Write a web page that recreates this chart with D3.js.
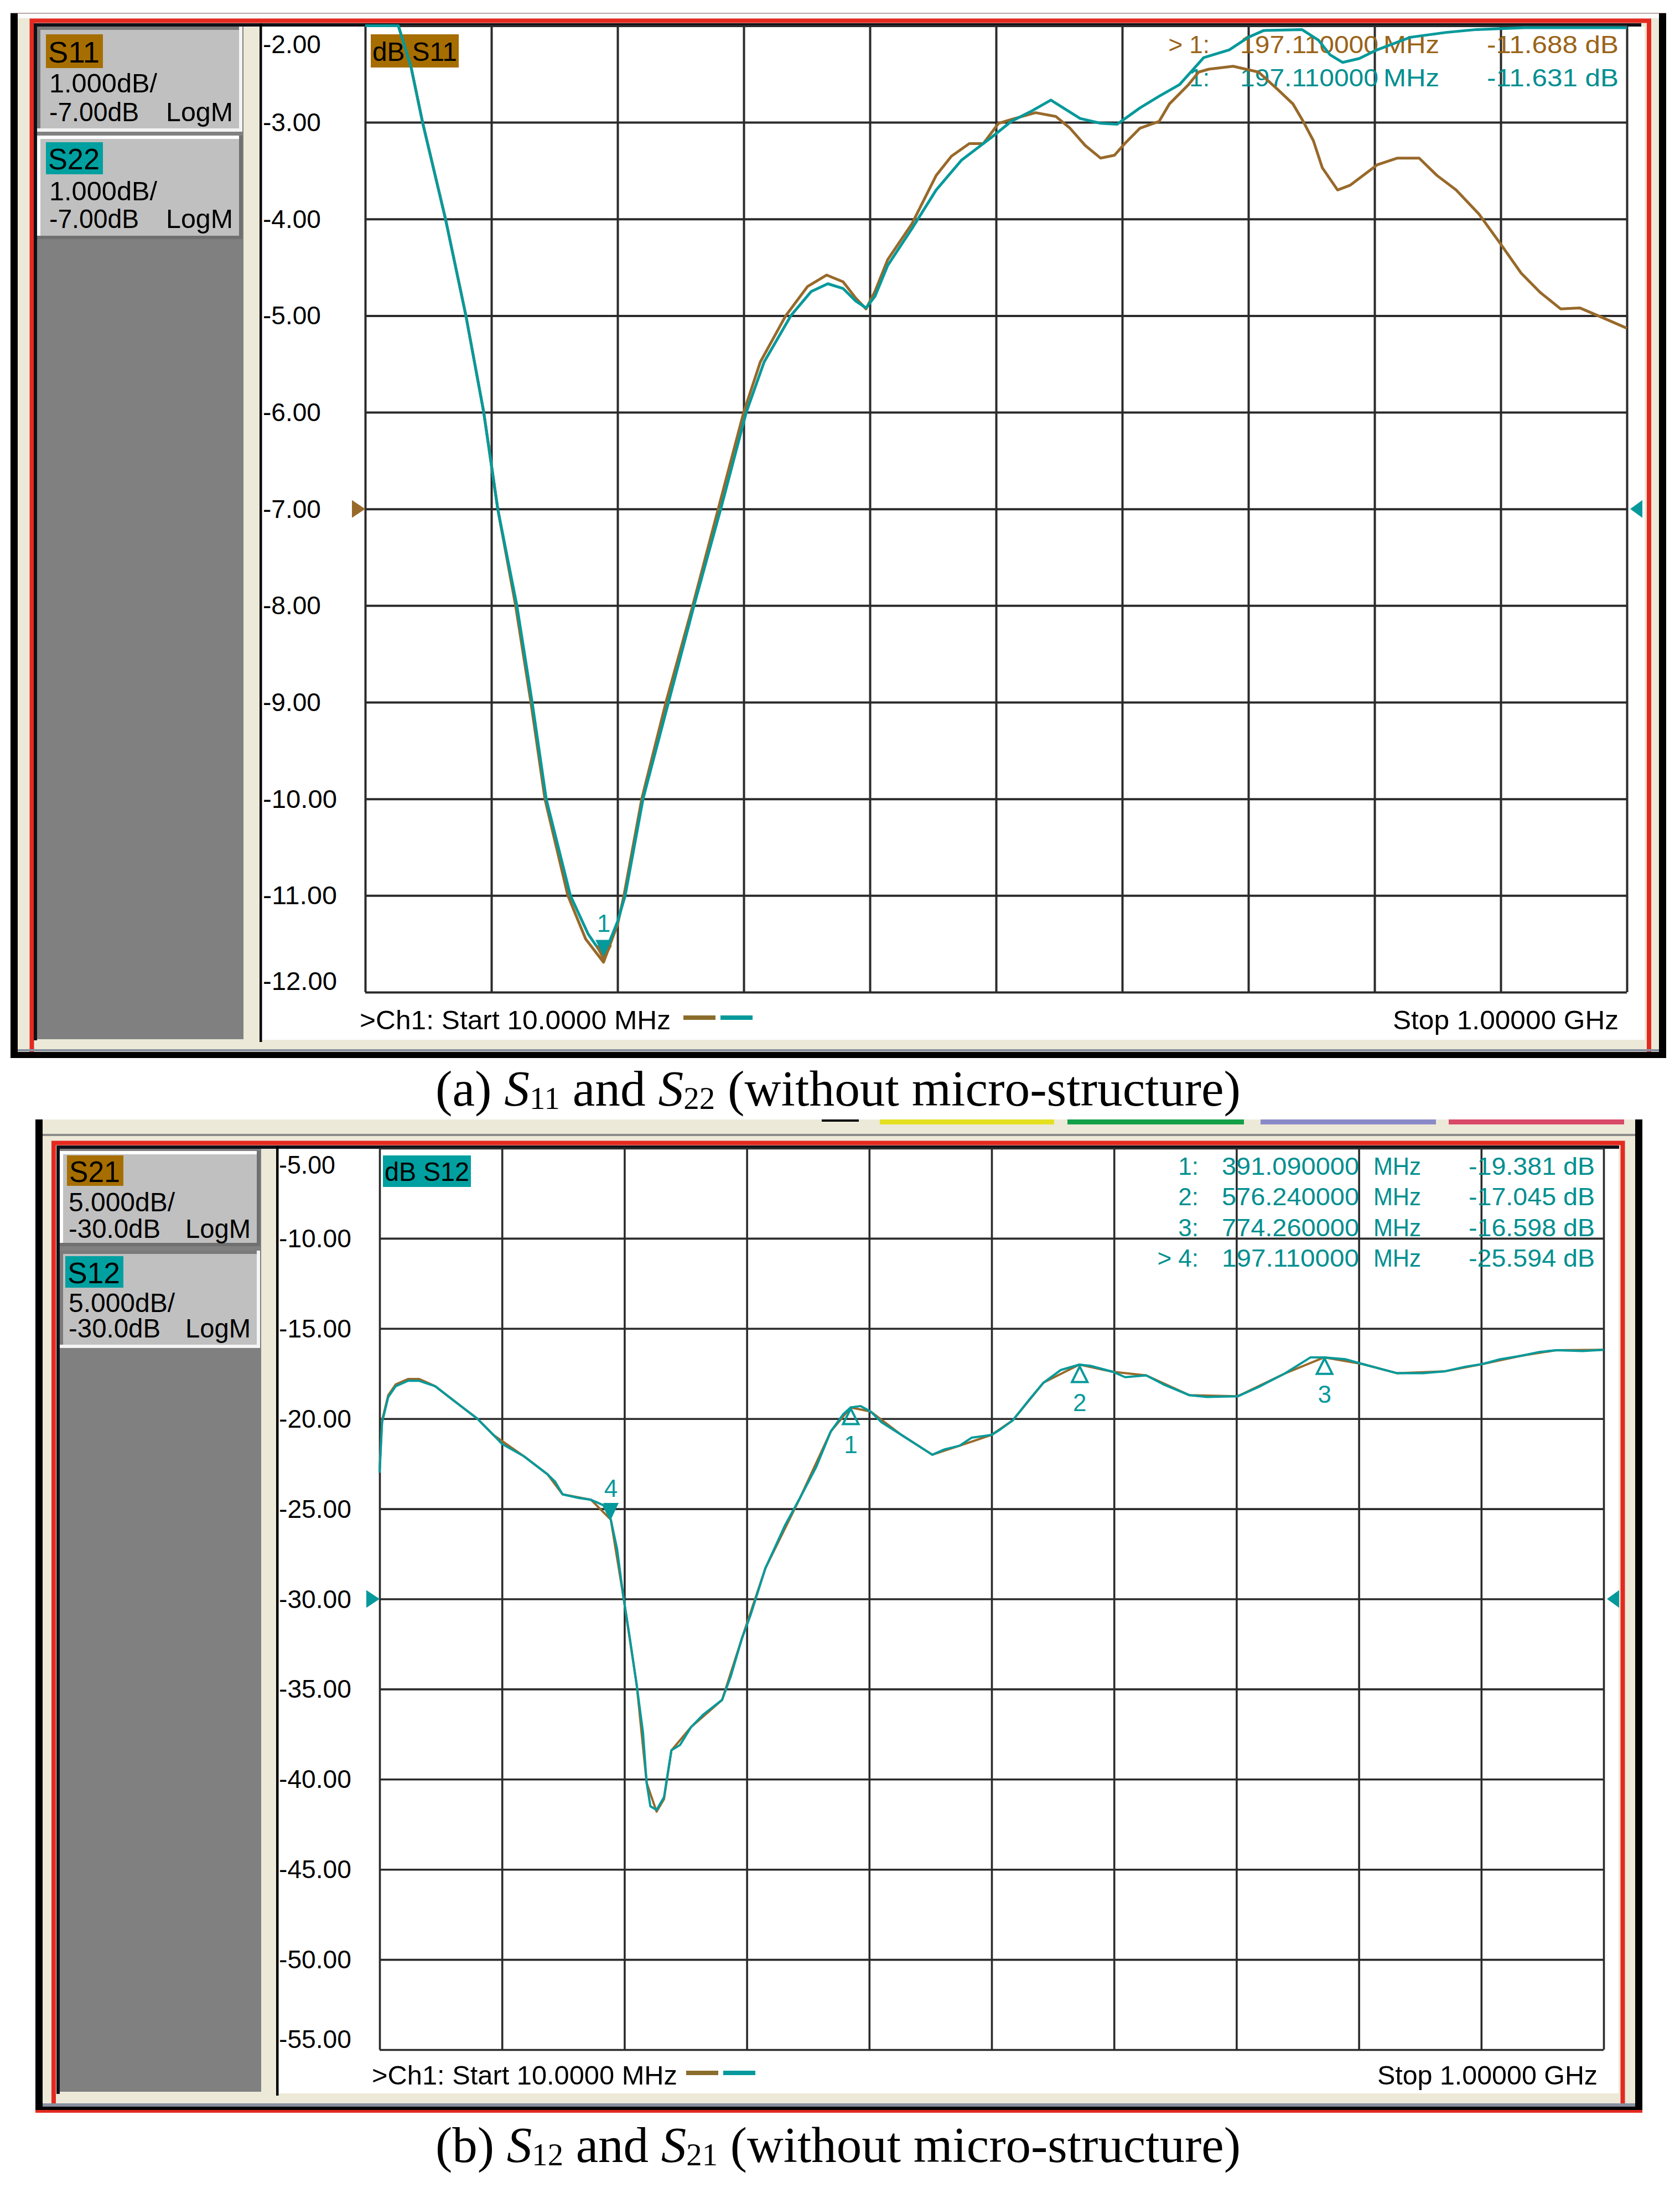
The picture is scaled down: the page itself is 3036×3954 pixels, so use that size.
<!DOCTYPE html>
<html>
<head>
<meta charset="utf-8">
<script src="https://cdn.jsdelivr.net/npm/d3@7/dist/d3.min.js"></script>
<style>
  body { margin: 0; background: #fff; }
  svg { display: block; }
</style>
</head>
<body>
<svg id="chart"></svg>
<script>
// ---- values (MHz, dB) ----
const gridFreqs = [10, 109, 208, 307, 406, 505, 604, 703, 802, 901, 1000]
const yTicksA = [-2, -3, -4, -5, -6, -7, -8, -9, -10, -11, -12]
const yTicksB = [-5, -10, -15, -20, -25, -30, -35, -40, -45, -50, -55]

const s11 = [[10,-2.0],[36,-2.0],[46,-2.43],[55,-3.0],[73,-4.0],[89,-5.0],[103,-6.0],[114,-7.0],
  [128,-8.0],[140,-9.0],[151,-10.0],[169,-11.0],[183,-11.45],[197,-11.69],[208,-11.3],[213,-11.0],
  [227,-10.0],[246,-9.0],[267,-8.0],[287,-7.0],[307,-6.0],[320,-5.48],[340,-5.0],[357,-4.7],
  [372,-4.58],[385,-4.65],[395,-4.82],[403,-4.93],[410,-4.75],[420,-4.42],[439,-4.05],[458,-3.55],
  [470,-3.35],[484,-3.22],[495,-3.22],[507,-3.01],[517,-2.97],[536,-2.90],[552,-2.94],[563,-3.06],
  [575,-3.24],[587,-3.37],[598,-3.34],[606,-3.22],[618,-3.06],[633,-2.99],[641,-2.81],[656,-2.61],
  [664,-2.48],[672,-2.45],[691,-2.42],[711,-2.48],[726,-2.66],[738,-2.81],[746,-2.99],[754,-3.19],
  [761,-3.47],[773,-3.70],[783,-3.65],[804,-3.44],[820,-3.37],[837,-3.37],[851,-3.55],[866,-3.70],
  [884,-3.95],[901,-4.26],[917,-4.56],[932,-4.76],[948,-4.93],[963,-4.92],[979,-5.01],[1000,-5.13]]

const s22 = [[10,-2.0],[36,-2.0],[46,-2.43],[55,-3.0],[73,-4.0],[89,-5.0],[103,-6.0],[114,-7.0],
  [129,-8.0],[141,-9.0],[152,-10.0],[171,-11.0],[185,-11.4],[197,-11.63],[208,-11.27],[214,-11.0],
  [228,-10.0],[248,-9.0],[268,-8.0],[289,-7.0],[309,-6.0],[323,-5.48],[344,-5.0],[360,-4.75],
  [373,-4.67],[385,-4.72],[395,-4.85],[403,-4.92],[410,-4.8],[420,-4.48],[439,-4.10],[458,-3.70],
  [478,-3.39],[501,-3.16],[517,-2.99],[532,-2.89],[548,-2.77],[571,-2.96],[587,-3.01],[600,-3.02],
  [618,-2.85],[633,-2.73],[649,-2.61],[668,-2.33],[688,-2.25],[703,-2.12],[715,-2.05],[745,-2.04],
  [758,-2.15],[767,-2.3],[777,-2.38],[790,-2.34],[804,-2.25],[830,-2.12],[858,-2.07],[882,-2.04],
  [920,-2.02],[1000,-2.02]]

const s12 = [[10,-23.0],[12,-20.2],[17,-18.8],[23,-18.2],[33,-17.9],[42,-17.9],[55,-18.2],[70,-19.0],
  [89,-20.0],[102,-20.9],[109,-21.4],[127,-22.1],[146,-23.1],[152,-23.5],[158,-24.2],[171,-24.4],
  [181,-24.5],[191,-24.8],[197,-25.6],[202,-27.2],[207,-29.8],[212,-32.0],[218,-34.8],[223,-37.4],
  [226,-40.2],[229,-41.5],[234,-41.7],[240,-41.0],[246,-38.4],[253,-38.1],[262,-37.1],[272,-36.4],
  [287,-35.6],[294,-34.3],[303,-32.2],[310,-30.9],[322,-28.3],[338,-25.9],[350,-24.4],[363,-22.7],
  [375,-20.7],[385,-19.75],[391,-19.38],[399,-19.3],[407,-19.6],[416,-20.2],[432,-20.9],[448,-21.6],
  [457,-22.0],[467,-21.7],[479,-21.5],[489,-21.05],[505,-20.9],[512,-20.6],[522,-20.1],[536,-18.9],
  [547,-18.0],[561,-17.3],[576,-17.0],[585,-17.07],[603,-17.4],[613,-17.7],[630,-17.6],[644,-18.1],
  [665,-18.7],[679,-18.8],[704,-18.76],[721,-18.24],[742,-17.5],[763,-16.6],[774,-16.6],[791,-16.7],
  [805,-16.97],[822,-17.28],[833,-17.48],[854,-17.48],[871,-17.38],[888,-17.12],[902,-16.97],
  [916,-16.71],[934,-16.5],[948,-16.3],[962,-16.2],[983,-16.25],[1000,-16.18]]

// S21 lies under S12 almost everywhere
const s21 = [[10,-22.8],[12,-20.1],[17,-18.7],[23,-18.1],[33,-17.8],[42,-17.8],[55,-18.2],[70,-19.0],
  [89,-20.0],[102,-20.9],[127,-22.1],[146,-23.1],[158,-24.2],[181,-24.5],[197,-25.6],[207,-29.8],
  [218,-34.8],[226,-40.2],[234,-41.8],[240,-41.1],[246,-38.4],[262,-37.1],[287,-35.6],[303,-32.2],
  [322,-28.3],[350,-24.4],[375,-20.7],[391,-19.38],[407,-19.6],[432,-20.9],[457,-22.0],[479,-21.5],
  [505,-20.9],[522,-20.1],[547,-18.0],[576,-17.0],[603,-17.4],[630,-17.6],[665,-18.7],[704,-18.76],
  [742,-17.5],[774,-16.6],[805,-16.97],[833,-17.48],[871,-17.38],[902,-16.97],[934,-16.5],
  [962,-16.2],[1000,-16.18]]

const markersA = [
  {id: "1", trace: "S11", f: 197.11, db: -11.688},
  {id: "1", trace: "S22", f: 197.11, db: -11.631}
]
const markersB = [
  {id: "1", f: 391.09, db: -19.381, active: false},
  {id: "2", f: 576.24, db: -17.045, active: false},
  {id: "3", f: 774.26, db: -16.598, active: false},
  {id: "4", f: 197.11, db: -25.594, active: true}
]
const readoutA = [
  {tag: "> 1:", f: "197.110000", val: "-11.688 dB", trace: "S11"},
  {tag: "1:", f: "197.110000", val: "-11.631 dB", trace: "S22"}
]
const readoutB = [
  {tag: "1:", f: "391.090000", val: "-19.381 dB"},
  {tag: "2:", f: "576.240000", val: "-17.045 dB"},
  {tag: "3:", f: "774.260000", val: "-16.598 dB"},
  {tag: "> 4:", f: "197.110000", val: "-25.594 dB"}
]

const BROWN = "#98692a", TEAL = "#06999b"
const BROWN_BOX = "#a66e00", TEAL_BOX = "#00a0a0"
const BEIGE = "#ece9d8", SIDE = "#808080", BTN = "#c0c0c0", GRID = "#2b2b2b", RED = "#e42a20"
const FONT = "Liberation Sans, Arial, sans-serif"

const svg = d3.select("#chart").attr("width", 3036).attr("height", 3954)
svg.append("rect").attr("width", 3036).attr("height", 3954).attr("fill", "#fff")

function box(g, x, y, w, h, fill) {
  return g.append("rect").attr("x", x).attr("y", y).attr("width", w).attr("height", h).attr("fill", fill)
}

function txt(g, s, x, y, opt) {
  opt = opt || {}
  let t = g.append("text").attr("x", x).attr("y", y).text(s)
    .attr("font-family", FONT)
    .attr("font-size", opt.size || 46)
    .attr("fill", opt.fill || "#000")
    .attr("dominant-baseline", "central")
  if (opt.w) t.attr("textLength", opt.w).attr("lengthAdjust", "spacingAndGlyphs")
  if (opt.anchor) t.attr("text-anchor", opt.anchor)
  return t
}

// windows style button, pressed or raised
function button(g, x, y, w, h, pressed) {
  box(g, x, y, w, h, BTN)
  let lite = pressed ? "#7a7a7a" : "#ffffff"
  let dark = pressed ? "#f4f4f4" : "#707070"
  box(g, x, y, w, 6, lite)
  box(g, x, y, 6, h, lite)
  box(g, x, y + h - 6, w, 6, dark)
  box(g, x + w - 6, y, 6, h, dark)
}

function drawPanel(P) {
  let g = svg.append("g")
  let x = d3.scaleLinear().domain([10, 1000]).range([P.grid.x0, P.grid.x1])
  let y = d3.scaleLinear().domain(P.yDomain).range([P.grid.y0, P.grid.y1])

  // window chrome
  box(g, P.outer.x0, P.outer.y0, P.outer.x1 - P.outer.x0, P.outer.y1 - P.outer.y0, BEIGE)
  if (P.whiteTop) box(g, P.outer.x0, P.outer.y0, P.outer.x1 - P.outer.x0, P.whiteTop, "#fbfbfb")
  P.tabs.forEach(t => box(g, t[0], t[1], t[2] - t[0], t[3], t[4]))
  g.append("rect")
    .attr("x", P.red.x0).attr("y", P.red.y0)
    .attr("width", P.red.x1 - P.red.x0).attr("height", P.red.y1 - P.red.y0)
    .attr("fill", BEIGE).attr("stroke", RED).attr("stroke-width", 8)
  box(g, P.inner.x0, P.inner.y0, P.inner.x1 - P.inner.x0, 6, "#101018")
  box(g, P.inner.x0, P.inner.y0, 6, P.inner.y1 - P.inner.y0, "#101018")
  box(g, P.side.x0, P.side.y0, P.side.x1 - P.side.x0, P.side.y1 - P.side.y0, SIDE)
  box(g, P.side.x1, P.inner.y0 + 6, P.plot.x0 - P.side.x1, P.side.y1 - P.inner.y0, BEIGE)
  box(g, P.plot.x0, P.plot.y0, P.plot.x1 - P.plot.x0, P.plot.y1 - P.plot.y0, "#fff")
  box(g, P.axisX - 2, P.inner.y0, 4.5, P.plot.y1 - P.inner.y0 + 4, "#000")
  P.black.forEach(b => box(g, b[0], b[1], b[2], b[3], b[4] || "#000"))

  // trace buttons in the left column
  P.buttons.forEach(b => {
    button(g, b.x, b.y, b.w, b.h, b.pressed)
    box(g, b.lab[0], b.lab[1], b.lab[2], b.lab[3], b.color)
    txt(g, b.name, b.lab[0] + 4, b.lab[1] + b.lab[3] / 2 + 1, {size: 54, w: b.lab[2] - 10})
    txt(g, b.scale, b.tx, b.l1, {size: 48, w: b.scaleW})
    txt(g, b.ref, b.tx, b.l2, {size: 48, w: b.refW})
    txt(g, "LogM", b.logX, b.l2, {size: 48, w: b.logW})
  })

  // grid drawn through d3 axes
  let gw = P.grid.x1 - P.grid.x0, gh = P.grid.y1 - P.grid.y0
  let gx = g.append("g").attr("transform", `translate(0,${P.grid.y1})`)
    .call(d3.axisBottom(x).tickValues(gridFreqs).tickSize(-gh).tickFormat(""))
  let gy = g.append("g").attr("transform", `translate(${P.grid.x0},0)`)
    .call(d3.axisLeft(y).tickValues(P.ticks).tickSize(-gw).tickFormat(""))
  ;[gx, gy].forEach(a => {
    a.select(".domain").remove()
    a.selectAll("line").attr("stroke", GRID).attr("stroke-width", P.gridW)
  })

  // y labels, the first and last are pushed inside
  P.ticks.forEach((v, i) => {
    let yy = y(v)
    if (i == 0) yy += P.labShift[0]
    if (i == P.ticks.length - 1) yy += P.labShift[1]
    let s = v.toFixed(2)
    txt(g, s, P.labX, yy, {size: 46, w: s.length > 5 ? P.labW[1] : P.labW[0]})
  })

  // active trace tag
  box(g, P.tag.x, P.tag.y, P.tag.w, P.tag.h, P.tag.color)
  txt(g, P.tag.text, P.tag.x + 3, P.tag.y + P.tag.h / 2 + 1, {size: 48, w: P.tag.w - 6})

  // reference level arrows
  let ry = y(P.refLevel)
  g.append("path").attr("d", `M${P.grid.x0},${ry} l-24,-16 l0,32 z`).attr("fill", P.refColor)
  g.append("path").attr("d", `M${P.grid.x1 + 6},${ry} l22,-16 l0,32 z`).attr("fill", TEAL)

  // marker readouts
  P.readout.forEach((r, i) => {
    let yy = P.ro.y0 + i * P.ro.dy
    let c = r.color
    txt(g, r.tag, P.ro.tagEnd, yy, {size: 44, fill: c, anchor: "end"})
    txt(g, r.f, P.ro.fX, yy, {size: 44, fill: c, w: P.ro.fW})
    txt(g, "MHz", P.ro.uX, yy, {size: 44, fill: c, w: P.ro.uW})
    txt(g, r.val, P.ro.vX, yy, {size: 44, fill: c, w: P.ro.vW})
  })

  // bottom status line
  txt(g, ">Ch1: Start  10.0000 MHz", P.status.x, P.status.y, {size: 48, w: P.status.w})
  box(g, P.status.sw, P.status.y - 8, 58, 8, "#8a6c2c")
  box(g, P.status.sw + 67, P.status.y - 8, 58, 8, TEAL)
  txt(g, "Stop  1.00000 GHz", P.status.stopX, P.status.y, {size: 48, w: P.status.stopW})

  // traces
  let line = d3.line()
    .x(d => x(d[0]))
    .y(d => Math.max(P.grid.y0, Math.min(P.grid.y1, y(d[1]))))
  P.traces.forEach(t => {
    g.append("path").datum(t.data)
      .attr("fill", "none").attr("stroke", t.color)
      .attr("stroke-width", P.traceW).attr("stroke-linejoin", "round")
      .attr("d", line)
  })

  return {g, x, y}
}

// ---------------- panel (a) ----------------
let pa = drawPanel({
  outer: {x0: 19, y0: 24, x1: 3011, y1: 1912},
  whiteTop: 9,
  tabs: [[19, 23, 3011, 2, "#b8a8a8"]],
  red: {x0: 57.5, y0: 37.5, x1: 2980, y1: 1906},
  inner: {x0: 61, y0: 42, x1: 2966, y1: 1880},
  side: {x0: 67, y0: 48, x1: 440, y1: 1878},
  plot: {x0: 473, y0: 48, x1: 2972, y1: 1879},
  axisX: 471,
  black: [[19, 24, 13, 1888], [2998, 24, 13, 1888], [32, 1896, 2966, 4, "#8890a0"], [19, 1901, 2992, 11]],
  buttons: [
    {x: 67, y: 48, w: 371, h: 190, pressed: true, lab: [83, 62, 103, 61], color: BROWN_BOX, name: "S11",
     scale: "1.000dB/", ref: "-7.00dB", tx: 89, l1: 150, l2: 202, scaleW: 195, refW: 162, logX: 300, logW: 121},
    {x: 67, y: 245, w: 371, h: 187, pressed: false, lab: [83, 257, 103, 58], color: TEAL_BOX, name: "S22",
     scale: "1.000dB/", ref: "-7.00dB", tx: 89, l1: 345, l2: 395, scaleW: 195, refW: 162, logX: 300, logW: 121}
  ],
  grid: {x0: 660, x1: 2940, y0: 46.4, y1: 1793},
  gridW: 4,
  yDomain: [-2, -12],
  ticks: yTicksA,
  labX: 475, labW: [105, 134], labShift: [34, -20],
  tag: {x: 670, y: 62, w: 159, h: 60, color: BROWN_BOX, text: "dB S11"},
  refLevel: -7, refColor: BROWN,
  readout: readoutA.map(r => Object.assign({color: r.trace == "S11" ? "#9a6418" : "#008f90"}, r)),
  ro: {y0: 80, dy: 60, tagEnd: 2186, fX: 2241, fW: 250, uX: 2500, uW: 101, vX: 2687, vW: 238},
  status: {x: 650, y: 1843, w: 562, sw: 1235, stopX: 2517, stopW: 408},
  traces: [{data: s11, color: BROWN}, {data: s22, color: TEAL}],
  traceW: 5
})

// marker 1 on both reflection traces
markersA.forEach(m => {
  let mx = pa.x(m.f), my = pa.y(m.db)
  pa.g.append("path").attr("d", `M${mx - 15},${my - 30} L${mx + 15},${my - 30} L${mx},${my} Z`)
    .attr("fill", m.trace == "S11" ? BROWN : TEAL)
})
txt(pa.g, "1", pa.x(197.11), pa.y(-11.688) - 70, {size: 44, fill: TEAL, anchor: "middle"})

// ---------------- panel (b) ----------------
let pb = drawPanel({
  outer: {x0: 77, y0: 2023, x1: 2955, y1: 3813},
  whiteTop: 0,
  tabs: [[1485, 2023, 1552, 4, "#000"], [1590, 2023, 1905, 9, "#e4e020"], [1929, 2023, 2248, 9, "#12a048"],
         [2278, 2023, 2595, 9, "#8a8ac8"], [2618, 2023, 2935, 9, "#d84a68"], [77, 2049, 2955, 4, "#8c8c8c"]],
  red: {x0: 97, y0: 2065.5, x1: 2932.5, y1: 3810},
  inner: {x0: 102, y0: 2070, x1: 2926, y1: 3784},
  side: {x0: 108, y0: 2076, x1: 472, y1: 3780},
  plot: {x0: 503, y0: 2076, x1: 2925, y1: 3783},
  axisX: 501,
  black: [[64, 2023, 13, 1795], [2955, 2023, 13, 1795], [77, 3801, 2878, 6, "#8890a0"], [64, 3807, 2904, 6],
          [64, 3813, 2904, 5, RED]],
  buttons: [
    {x: 108, y: 2080, w: 362, h: 172, pressed: false, lab: [121, 2088, 102, 55], color: BROWN_BOX, name: "S21",
     scale: "5.000dB/", ref: "-30.0dB", tx: 124, l1: 2172, l2: 2220, scaleW: 192, refW: 166, logX: 335, logW: 118},
    {x: 108, y: 2260, w: 362, h: 176, pressed: true, lab: [118, 2270, 105, 57], color: TEAL_BOX, name: "S12",
     scale: "5.000dB/", ref: "-30.0dB", tx: 124, l1: 2354, l2: 2400, scaleW: 192, refW: 166, logX: 335, logW: 118}
  ],
  grid: {x0: 686, x1: 2898, y0: 2075, y1: 3704},
  gridW: 3.6,
  yDomain: [-5, -55],
  ticks: yTicksB,
  labX: 504, labW: [102, 131], labShift: [30, -19],
  tag: {x: 692, y: 2088, w: 159, h: 57, color: TEAL_BOX, text: "dB S12"},
  refLevel: -30, refColor: TEAL,
  readout: readoutB.map(r => Object.assign({color: "#008f90"}, r)),
  ro: {y0: 2107, dy: 55.5, tagEnd: 2166, fX: 2208, fW: 248, uX: 2482, uW: 86, vX: 2654, vW: 228},
  status: {x: 672, y: 3750, w: 552, sw: 1240, stopX: 2489, stopW: 398},
  traces: [{data: s21, color: BROWN}, {data: s12, color: TEAL}],
  traceW: 4
})

// markers on S12: 1-3 open, 4 is the active one
markersB.forEach(m => {
  let mx = pb.x(m.f), my = pb.y(m.db)
  if (m.active) {
    pb.g.append("path").attr("d", `M${mx - 14},${my - 30} L${mx + 14},${my - 30} L${mx},${my} Z`).attr("fill", TEAL)
    txt(pb.g, m.id, mx, my - 56, {size: 44, fill: TEAL, anchor: "middle"})
  } else {
    pb.g.append("path").attr("d", `M${mx},${my + 2} L${mx + 14},${my + 30} L${mx - 14},${my + 30} Z`)
      .attr("fill", "none").attr("stroke", TEAL).attr("stroke-width", 4)
    txt(pb.g, m.id, mx, my + 67, {size: 44, fill: TEAL, anchor: "middle"})
  }
})

// ---------------- captions ----------------
function caption(yBase, letter, a, b) {
  let t = svg.append("text").attr("x", 787).attr("y", yBase)
    .attr("font-family", "Liberation Serif, Times New Roman, serif").attr("font-size", 90)
    .attr("textLength", 1455).attr("lengthAdjust", "spacingAndGlyphs")
  t.append("tspan").text(`(${letter}) `)
  t.append("tspan").attr("font-style", "italic").text("S")
  t.append("tspan").attr("font-size", 56).attr("dy", 6).text(a)
  t.append("tspan").attr("dy", -6).text(" and ")
  t.append("tspan").attr("font-style", "italic").text("S")
  t.append("tspan").attr("font-size", 56).attr("dy", 6).text(b)
  t.append("tspan").attr("dy", -6).text(" (without micro-structure)")
}
caption(1998, "a", "11", "22")
caption(3907, "b", "12", "21")
</script>
</body>
</html>
